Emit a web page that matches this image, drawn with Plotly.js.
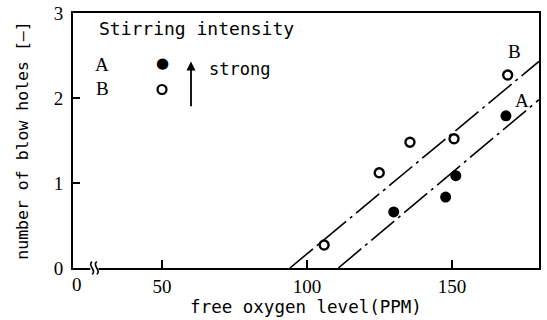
<!DOCTYPE html>
<html>
<head>
<meta charset="utf-8">
<script src="https://cdn.plot.ly/plotly-3.0.1.min.js"></script>
<style>html,body{margin:0;padding:0;background:#fff;}#chart{width:547px;height:320px;}</style>
</head>
<body>
<div id="chart"></div>
<script>
// Data
const seriesAx = [129.9, 147.8, 151.3, 168.6];
const seriesAy = [0.66, 0.835, 1.086, 1.79];
const seriesBx = [105.9, 124.9, 135.5, 150.7, 169.2];
const seriesBy = [0.27, 1.12, 1.48, 1.52, 2.27];
const lineAx = [110.8, 180];
const lineAy = [0, 1.98];
const lineBx = [94.1, 180];
const lineBy = [0, 2.43];
const xTickVals = [50, 100, 150];
const xTickText = ['50', '100', '150'];
const yTickVals = [0, 1, 2, 3];
const yTickText = ['0', '1', '2', '3'];

const mono = 'DejaVu Sans Mono, monospace';
const serif = 'Liberation Serif, serif';
const dash = '30px,5px,3px,5px';

const traces = [
  {x: lineBx, y: lineBy, mode: 'lines', line: {color: '#000', width: 1.6, dash: dash}, hoverinfo: 'skip', showlegend: false},
  {x: lineAx, y: lineAy, mode: 'lines', line: {color: '#000', width: 1.6, dash: dash}, hoverinfo: 'skip', showlegend: false},
  {x: seriesAx, y: seriesAy, mode: 'markers', name: 'A',
   marker: {symbol: 'circle', size: 11, color: '#000'}, showlegend: false},
  {x: seriesBx, y: seriesBy, mode: 'markers', name: 'B',
   marker: {symbol: 'circle-open', size: 9, color: '#000', line: {width: 2.4, color: '#000'}}, showlegend: false}
];

function brk(x0) {
  return {type: 'path', xref: 'paper', yref: 'paper', layer: 'above',
    path: `M ${x0},-0.025 C ${x0 + 0.012},-0.01 ${x0 - 0.012},0.01 ${x0},0.025`,
    line: {color: '#000', width: 1.6}};
}

const layout = {
  width: 547, height: 320,
  margin: {l: 73, r: 8, t: 13, b: 52},
  paper_bgcolor: '#fff', plot_bgcolor: '#fff',
  showlegend: false,
  xaxis: {
    range: [19.3, 180], showgrid: false, zeroline: false,
    showline: true, linecolor: '#000', linewidth: 2, mirror: true,
    ticks: 'inside', ticklen: 8, tickwidth: 1.6, tickcolor: '#000',
    tickvals: xTickVals, ticktext: xTickText,
    tickfont: {family: serif, size: 19, color: '#000'},
    title: {text: 'free oxygen level(PPM)', font: {family: mono, size: 17.5, color: '#000'}, standoff: 1}
  },
  yaxis: {
    range: [0, 3], showgrid: false, zeroline: false,
    showline: true, linecolor: '#000', linewidth: 2, mirror: true,
    ticks: 'inside', ticklen: 7, tickwidth: 1.6, tickcolor: '#000',
    tickvals: yTickVals, ticktext: yTickText, ticklabelstandoff: 4,
    tickfont: {family: serif, size: 19, color: '#000'},
    title: {text: 'number of blow holes [—]', font: {family: mono, size: 16.5, color: '#000'}, standoff: 21}
  },
  shapes: [
    {type: 'rect', xref: 'paper', yref: 'paper', layer: 'above',
     x0: 0.037, x1: 0.055, y0: -0.008, y1: 0.008, fillcolor: '#fff', line: {width: 0}},
    brk(0.041), brk(0.051),
    {type: 'circle', xref: 'x', yref: 'y', layer: 'above',
     x0: 48.45, x1: 51.55, y0: 2.047, y1: 2.153, line: {color: '#000', width: 2.2}}
  ],
  annotations: [
    {x: 0.009, y: 0, xref: 'paper', yref: 'paper', xanchor: 'center', yanchor: 'top', yshift: -4,
     text: '0', showarrow: false, font: {family: serif, size: 19, color: '#000'}},
    {x: 27.6, y: 2.816, xref: 'x', yref: 'y', xanchor: 'left', yanchor: 'middle',
     text: 'Stirring intensity', showarrow: false, font: {family: mono, size: 18, color: '#000'}},
    {x: 29.3, y: 2.40, xref: 'x', yref: 'y', xanchor: 'center', yanchor: 'middle',
     text: 'A', showarrow: false, font: {family: serif, size: 19, color: '#000'}},
    {x: 29.3, y: 2.11, xref: 'x', yref: 'y', xanchor: 'center', yanchor: 'middle',
     text: 'B', showarrow: false, font: {family: serif, size: 19, color: '#000'}},
    {x: 50.3, y: 2.415, xref: 'x', yref: 'y', xanchor: 'center', yanchor: 'middle',
     text: '●', showarrow: false, font: {family: 'DejaVu Sans', size: 15, color: '#000'}},
    {x: 60, y: 2.43, xref: 'x', yref: 'y', axref: 'x', ayref: 'y', ax: 60, ay: 1.886,
     text: '', showarrow: true, arrowhead: 2, arrowsize: 1, arrowwidth: 1.8, arrowcolor: '#000'},
    {x: 65.5, y: 2.34, xref: 'x', yref: 'y', xanchor: 'left', yanchor: 'middle',
     text: 'strong', showarrow: false, font: {family: mono, size: 17, color: '#000'}},
    {x: 171.7, y: 2.545, xref: 'x', yref: 'y', xanchor: 'center', yanchor: 'middle',
     text: 'B', showarrow: false, font: {family: serif, size: 19, color: '#000'}},
    {x: 174.3, y: 1.97, xref: 'x', yref: 'y', xanchor: 'center', yanchor: 'middle',
     text: 'A', showarrow: false, font: {family: serif, size: 19, color: '#000'}}
  ]
};

Plotly.newPlot('chart', traces, layout, {displayModeBar: false, staticPlot: true});
</script>
</body>
</html>
